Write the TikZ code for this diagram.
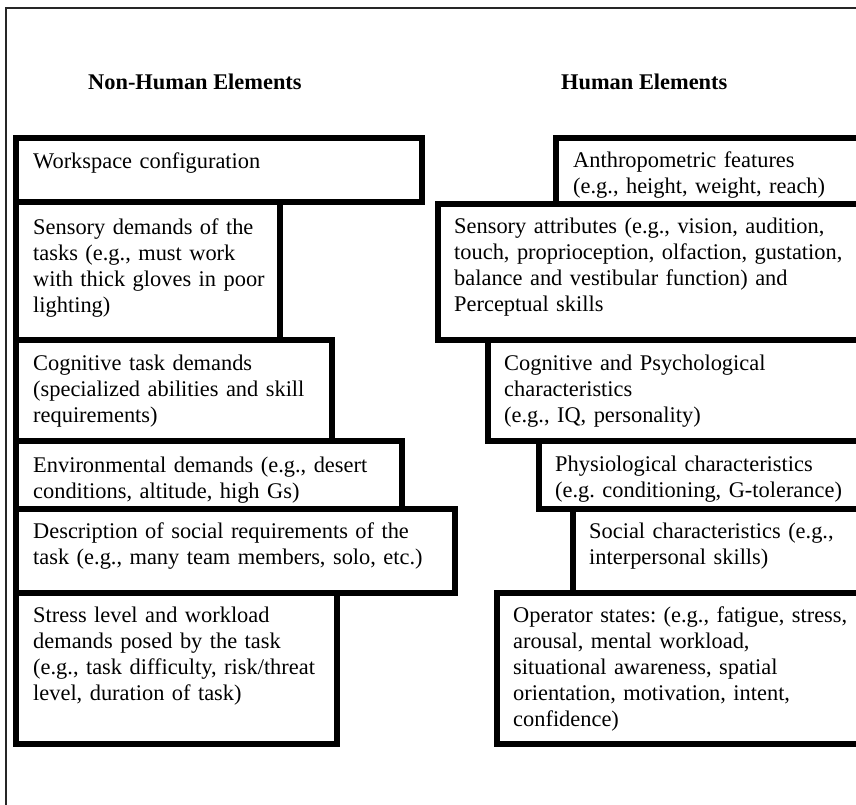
\documentclass[tikz,border=0pt]{standalone}
\usepackage{fontspec}
\setmainfont{Liberation Serif}
\frenchspacing
\begin{document}
\begin{tikzpicture}[x=1pt,y=-1pt,
  boxline/.style={draw=black, line width=5.5pt},
  frameline/.style={draw=black!85, line width=1.6pt},
  txt/.style={anchor=base west, inner sep=0pt, align=left, text width=400pt,
    font=\fontsize{22.4pt}{26.2pt}\selectfont\frenchspacing},
  head/.style={anchor=base west, inner sep=0pt,
    font=\fontsize{22.4pt}{26.2pt}\selectfont\bfseries}]
\useasboundingbox (0,0) rectangle (856,804);
\clip (0,0) rectangle (856,804);
\fill[white] (0,0) rectangle (856,804);
% outer frame (only top and left visible)
\draw[frameline] (6,820) -- (6,8) -- (870,8);
% headings
\node[head] (hnh) at (88,89) {Non-Human Elements};
\node[head] (hh) at (561,89) {Human Elements};
% left column boxes
\draw[boxline] (16,138) rectangle (422,202);
\draw[boxline] (16,202) rectangle (280,340);
\draw[boxline] (16,340) rectangle (332,441);
\draw[boxline] (16,441) rectangle (402,509);
\draw[boxline] (16,509) rectangle (455,593);
\draw[boxline] (16,593) rectangle (337,744);
% right column boxes
\draw[boxline] (556,138) rectangle (880,204);
\draw[boxline] (438,204) rectangle (880,340);
\draw[boxline] (488,340) rectangle (880,441);
\draw[boxline] (539,441) rectangle (880,509);
\draw[boxline] (573,509) rectangle (880,593);
\draw[boxline] (497,593) rectangle (880,744);
% left texts
\node[txt] (l1) at (33,168) {Workspace configuration};
\node[txt] (l2) at (33,234) {Sensory demands of the\\tasks (e.g., must work\\with thick gloves in poor\\lighting)};
\node[txt] (l3) at (33,370) {Cognitive task demands\\(specialized abilities and skill\\requirements)};
\node[txt] (l4) at (33,472) {Environmental demands (e.g., desert\\conditions, altitude, high Gs)};
\node[txt] (l5) at (33,538) {Description of social requirements of the\\task (e.g., many team members, solo, etc.)};
\node[txt] (l6) at (33,622) {Stress level and workload\\demands posed by the task\\(e.g., task difficulty, risk/threat\\level, duration of task)};
% right texts
\node[txt] (r1) at (573,167) {Anthropometric features\\(e.g., height, weight, reach)};
\node[txt] (r2) at (454,233) {Sensory attributes (e.g., vision, audition,\\touch, proprioception, olfaction, gustation,\\balance and vestibular function) and\\Perceptual skills};
\node[txt] (r3) at (504,370) {Cognitive and Psychological\\characteristics\\(e.g., IQ, personality)};
\node[txt] (r4) at (555,471) {Physiological characteristics\\(e.g. conditioning, G-tolerance)};
\node[txt] (r5) at (589,538) {Social characteristics (e.g.,\\interpersonal skills)};
\node[txt] (r6) at (513,622) {Operator states: (e.g., fatigue, stress,\\arousal, mental workload,\\situational awareness, spatial\\orientation, motivation, intent,\\confidence)};
\end{tikzpicture}
\end{document}
